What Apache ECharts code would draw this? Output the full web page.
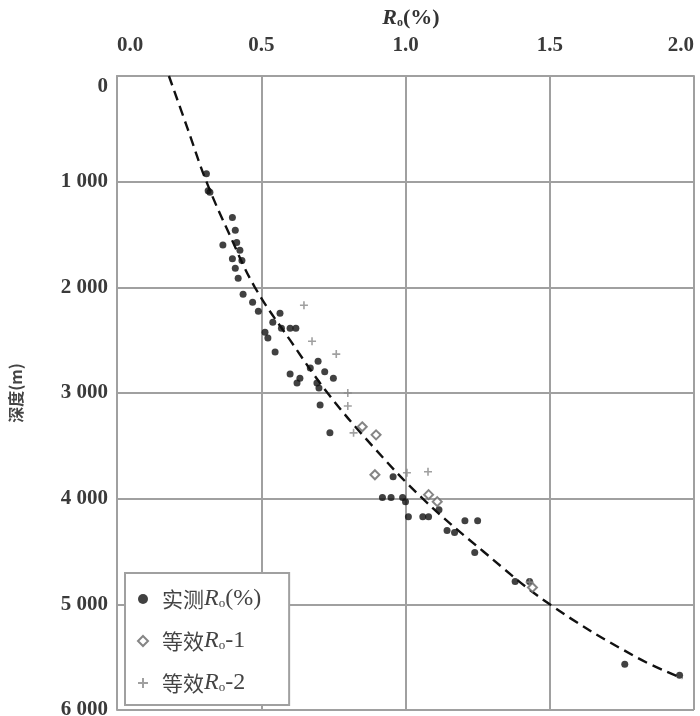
<!DOCTYPE html>
<html>
<head>
<meta charset="utf-8">
<script src="https://cdn.jsdelivr.net/npm/echarts@6/dist/echarts.min.js"></script>
<style>html,body{margin:0;padding:0;background:#fff}#c{width:700px;height:716px}</style>
</head>
<body>
<div id="c"></div>
<script>
// Measured Ro (%) vs depth (m)
const measured = [
  [0.31,925],[0.316,1085],[0.322,1100],[0.40,1340],[0.41,1460],[0.415,1575],[0.367,1600],
  [0.426,1650],[0.433,1745],[0.40,1730],[0.41,1820],[0.42,1915],[0.437,2066],[0.47,2140],
  [0.49,2226],[0.565,2245],[0.54,2330],[0.60,2387],[0.62,2387],[0.57,2387],[0.513,2425],
  [0.523,2480],[0.548,2613],[0.697,2700],[0.67,2764],[0.72,2800],[0.60,2820],[0.634,2860],
  [0.75,2860],[0.624,2906],[0.693,2906],[0.70,2953],[0.704,3113],[0.738,3377],[0.957,3792],
  [0.92,3990],[0.95,3990],[0.99,3990],[1.0,4028],[1.01,4170],[1.06,4170],[1.08,4170],
  [1.116,4104],[1.206,4208],[1.25,4208],[1.144,4302],[1.17,4321],[1.24,4509],[1.38,4783],
  [1.43,4783],[1.76,5566],[1.95,5670]
];
// Equivalent Ro-1
const equiv1 = [
  [0.898,3396],[0.894,3774],[1.08,3962],[1.11,4028],[0.85,3320],[1.44,4840]
];
// Equivalent Ro-2
const equiv2 = [
  [0.648,2170],[0.676,2510],[0.76,2632],[0.80,3000],[0.80,3123],[0.82,3377],
  [1.005,3755],[1.078,3745],[1.43,4790]
];
// Fitted trend curve
const trend = [
  [0.18,0],[0.245,500],[0.31,1000],[0.39,1500],[0.478,2000],[0.60,2500],[0.73,3000],
  [0.885,3500],[1.06,4000],[1.27,4500],[1.50,5000],[1.80,5500],[1.96,5700]
];
const xTicks = [0, 0.5, 1.0, 1.5, 2.0];
const yTicks = [0, 1000, 2000, 3000, 4000, 5000, 6000];
const names = ['实测Ro(%)', '等效Ro-1', '等效Ro-2'];

const serif = '"Liberation Serif","Noto Sans CJK SC",serif';
const cjk = '"Noto Sans CJK SC",sans-serif';
const gridColor = '#a0a0a0';
const plusPath = 'path://M4,0H6V4H10V6H6V10H4V6H0V4H4Z';

const legendRich = {
  c: {fontFamily: cjk, fontSize: 21, color: '#444', lineHeight: 26},
  t: {fontFamily: serif, fontSize: 24, color: '#444', lineHeight: 26},
  i: {fontFamily: serif, fontSize: 24, fontStyle: 'italic', color: '#444', lineHeight: 26},
  s: {fontFamily: serif, fontSize: 13, color: '#444', lineHeight: 26, padding: [10, 0, 0, 0]}
};

const chart = echarts.init(document.getElementById('c'));
chart.setOption({
  animation: false,
  backgroundColor: '#fff',
  grid: {left: 117, right: 6, top: 76, bottom: 6, containLabel: false, outerBoundsMode: 'none'},
  title: {
    text: '{i|R}{s|o}{t|(%)}',
    left: 406, top: 2, textAlign: 'center',
    textStyle: {rich: {
      t: {fontFamily: serif, fontSize: 22, fontWeight: 'bold', color: '#333'},
      i: {fontFamily: serif, fontSize: 22, fontWeight: 'bold', fontStyle: 'italic', color: '#333'},
      s: {fontFamily: serif, fontSize: 12, fontWeight: 'bold', color: '#333', padding: [10, 0, 0, 0]}
    }}
  },
  xAxis: {
    type: 'value', position: 'top', min: xTicks[0], max: xTicks[xTicks.length - 1], interval: 0.5,
    axisLine: {show: true, lineStyle: {color: gridColor, width: 2}},
    axisTick: {show: false},
    axisLabel: {
      formatter: v => v.toFixed(1), margin: 20, alignMinLabel: 'left', alignMaxLabel: 'right',
      fontFamily: serif, fontSize: 21, fontWeight: 'bold', color: '#3a3a3a'
    },
    splitLine: {show: true, lineStyle: {color: gridColor, width: 2}}
  },
  yAxis: {
    type: 'value', inverse: true, min: yTicks[0], max: yTicks[yTicks.length - 1], interval: 1000,
    name: '深度(m)', nameLocation: 'middle', nameGap: 93, nameRotate: 90,
    nameTextStyle: {fontFamily: cjk, fontSize: 16, fontWeight: 'bold', color: '#444'},
    axisLine: {show: true, lineStyle: {color: gridColor, width: 2}},
    axisTick: {show: false},
    axisLabel: {
      formatter: v => v === 0 ? '0' : String(v).replace(/(\d)(?=(\d{3})+$)/g, '$1 '),
      margin: 9, verticalAlignMinLabel: 'top',
      fontFamily: serif, fontSize: 21, fontWeight: 'bold', color: '#3a3a3a'
    },
    splitLine: {show: true, lineStyle: {color: gridColor, width: 2}}
  },
  legend: {
    orient: 'vertical', left: 125, top: 573,
    padding: [13, 28, 9, 12], itemGap: 16, itemWidth: 10, itemHeight: 10,
    backgroundColor: '#fff', borderColor: gridColor, borderWidth: 2, borderRadius: 0,
    data: names,
    formatter: n => {
      if (n === names[0]) return '{c|实测}{i|R}{s|o}{t|(%)}';
      if (n === names[1]) return '{c|等效}{i|R}{s|o}{t|-1}';
      return '{c|等效}{i|R}{s|o}{t|-2}';
    },
    textStyle: {rich: legendRich, padding: [0, 0, 0, 9], lineHeight: 26}
  },
  series: [
    {
      name: 'trend', type: 'line', data: trend, smooth: 0.4, symbol: 'none',
      lineStyle: {color: '#111', width: 2.4, type: [10, 6]}, z: 3, silent: true
    },
    {
      name: names[0], type: 'scatter', data: measured, symbol: 'circle', symbolSize: 7,
      itemStyle: {color: '#111'}, z: 4
    },
    {
      name: names[1], type: 'scatter', data: equiv1, symbol: 'diamond', symbolSize: 9,
      itemStyle: {color: '#fff', borderColor: '#666', borderWidth: 2}, z: 4
    },
    {
      name: names[2], type: 'scatter', data: equiv2, symbol: plusPath, symbolSize: 8,
      itemStyle: {color: '#888'}, z: 4
    }
  ]
});
</script>
</body>
</html>
